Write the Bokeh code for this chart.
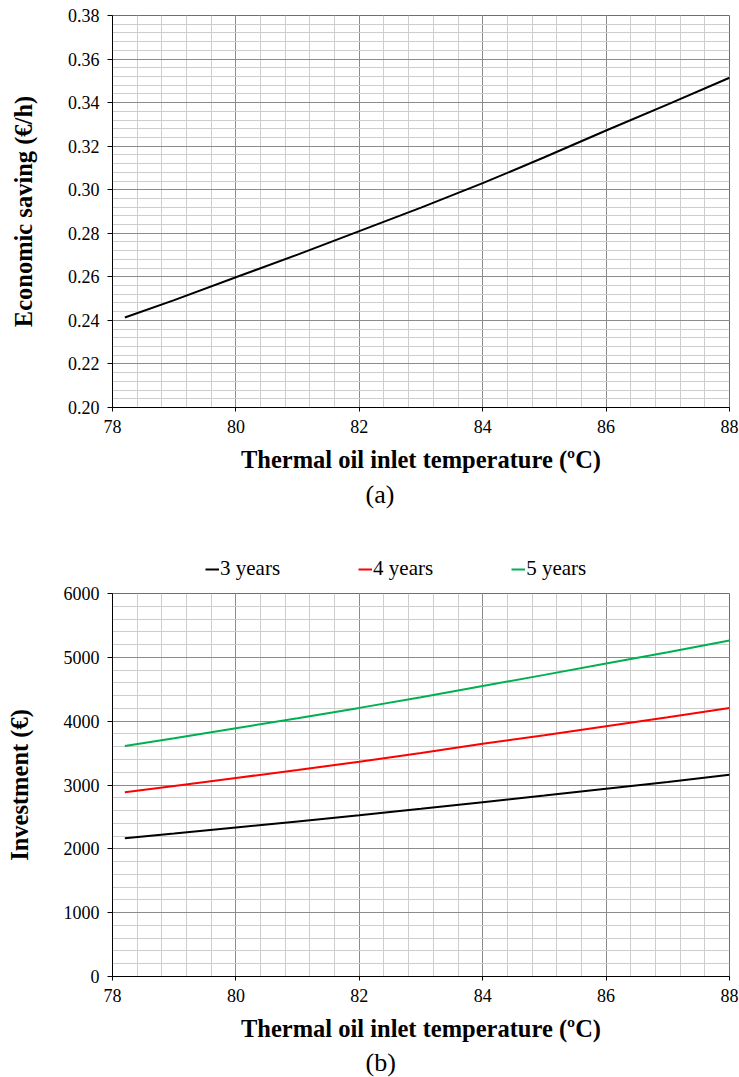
from bokeh.plotting import figure
from bokeh.models import (SingleIntervalTicker, PrintfTickFormatter, Legend, LegendItem,
                          Title, Range1d)
from bokeh.layouts import column
from bokeh.embed import file_html
from bokeh.resources import INLINE

FONT = "Liberation Serif"

# ---------------- data ----------------
temperature = [78.2, 79, 80, 81, 82, 83, 84, 85, 86, 87, 88]
saving = [0.2413, 0.2493, 0.2598, 0.2702, 0.2810, 0.2918, 0.3030, 0.3149, 0.3272, 0.3392, 0.3514]
investment_3y = [2167, 2240, 2334, 2428, 2525, 2627, 2731, 2835, 2941, 3048, 3159]
investment_4y = [2885, 2985, 3110, 3235, 3365, 3500, 3645, 3780, 3920, 4062, 4208]
investment_5y = [3612, 3733, 3890, 4045, 4208, 4375, 4552, 4725, 4902, 5080, 5265]
series_labels = ["3 years", "4 years", "5 years"]
series_colors = ["#000000", "#ff0000", "#00b050"]

x_label = "Thermal oil inlet temperature (ºC)"
y_label_a = "Economic saving (€/h)"
y_label_b = "Investment (€)"


def style(p, y_interval, y_format=None):
    xt = SingleIntervalTicker(interval=2, num_minor_ticks=5)
    yt = SingleIntervalTicker(interval=y_interval, num_minor_ticks=5)
    p.xaxis.ticker = xt
    p.xgrid.ticker = xt
    p.yaxis.ticker = yt
    p.ygrid.ticker = yt
    if y_format:
        p.yaxis.formatter = PrintfTickFormatter(format=y_format)
    for g in (p.xgrid, p.ygrid):
        g.grid_line_color = "#8c8c8c"
        g.grid_line_width = 1
        g.minor_grid_line_color = "#cdcdcd"
        g.minor_grid_line_width = 1
    for ax in (p.xaxis, p.yaxis):
        ax.axis_line_color = "#000000"
        ax.axis_line_width = 1
        ax.major_tick_line_color = "#000000"
        ax.major_tick_in = 0
        ax.major_tick_out = 5
        ax.minor_tick_line_color = None
        ax.major_label_text_font = FONT
        ax.major_label_text_font_size = "18px"
        ax.major_label_text_color = "#000000"
        ax.axis_label_text_font = FONT
        ax.axis_label_text_font_size = "24.5px"
        ax.axis_label_text_font_style = "bold"
        ax.axis_label_text_color = "#000000"
    p.xaxis.major_tick_out = 4
    p.xaxis.major_label_standoff = 8
    p.yaxis.major_label_standoff = 8
    p.xaxis.axis_label_standoff = 10
    p.yaxis.axis_label_standoff = 28
    p.outline_line_color = "#6e6e6e"
    p.outline_line_width = 1
    p.background_fill_color = "white"
    p.border_fill_color = "white"


def panel_title(text, standoff):
    return Title(text=text, align="left", offset=253, text_font=FONT, text_color="#000000",
                 text_font_size="26px", text_font_style="normal", standoff=standoff)


# ---------------- (a) economic saving ----------------
p1 = figure(frame_width=617, frame_height=392, output_backend="svg", toolbar_location=None,
            x_range=Range1d(78, 88), y_range=Range1d(0.20, 0.38),
            min_border_left=112, min_border_right=10, min_border_top=15, min_border_bottom=0,
            x_axis_label=x_label, y_axis_label=y_label_a)
p1.line(temperature, saving, line_color=series_colors[0], line_width=2)
style(p1, 0.02, "%.2f")
p1.add_layout(panel_title("(a)", 4), "below")

# ---------------- legend row for (b) ----------------
pl = figure(frame_width=739, frame_height=71, output_backend="svg", toolbar_location=None,
            x_range=Range1d(0, 1), y_range=Range1d(0, 1),
            x_axis_location=None, y_axis_location=None,
            min_border_left=0, min_border_right=0, min_border_top=0, min_border_bottom=0)
pl.grid.visible = False
pl.outline_line_color = None
# the legend's own copies of the series (they lie outside this strip's visible range)
legend_renderers = [pl.line(temperature, vals, line_color=c, line_width=2)
                    for vals, c in zip([investment_3y, investment_4y, investment_5y], series_colors)]
legend = Legend(items=[LegendItem(label=l, renderers=[r]) for l, r in zip(series_labels, legend_renderers)],
                orientation="horizontal", location=(205, 0),
                label_text_font=FONT, label_text_font_size="21px", label_text_color="#000000",
                glyph_width=14, glyph_height=20, label_height=20, label_standoff=1, spacing=78,
                padding=0, margin=0, border_line_color=None, background_fill_alpha=0)
pl.add_layout(legend, "center")

# ---------------- (b) investment ----------------
p2 = figure(frame_width=617, frame_height=383, output_backend="svg", toolbar_location=None,
            x_range=Range1d(78, 88), y_range=Range1d(0, 6000),
            min_border_left=112, min_border_right=10, min_border_top=12, min_border_bottom=0,
            x_axis_label=x_label, y_axis_label=y_label_b)
style(p2, 1000)
for vals, col in zip([investment_3y, investment_4y, investment_5y], series_colors):
    p2.line(temperature, vals, line_color=col, line_width=2)
p2.add_layout(panel_title("(b)", 2), "below")

layout = column(p1, pl, p2, spacing=0)
open("out.html", "w").write(file_html(layout, INLINE))
